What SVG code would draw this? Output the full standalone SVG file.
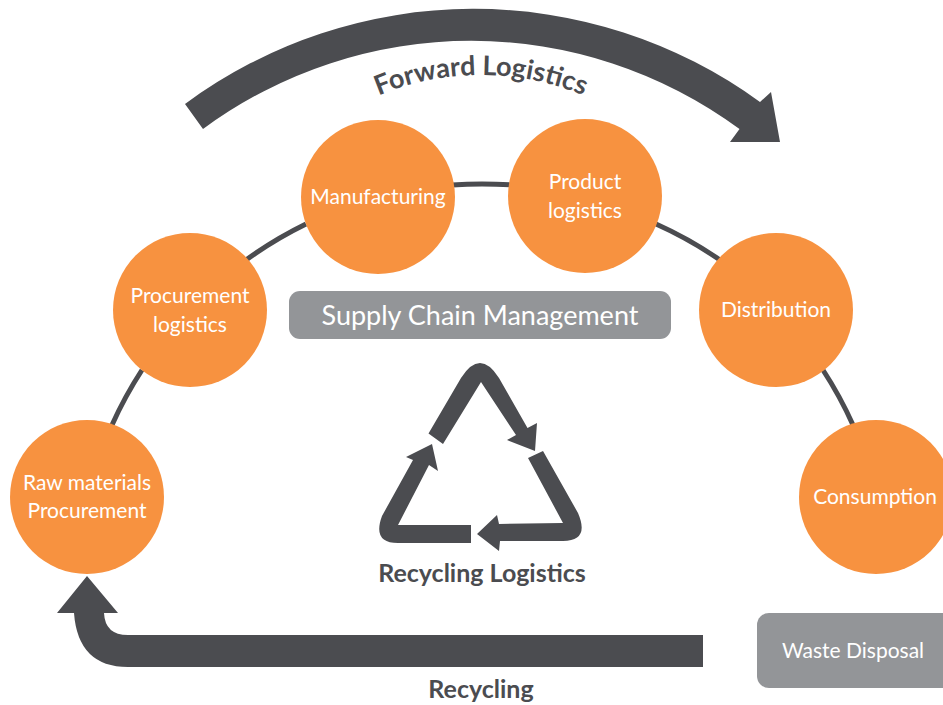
<svg xmlns="http://www.w3.org/2000/svg" width="943" height="705" viewBox="0 0 943 705">
<style>
.n{fill:#f79240}
.t{font-family:"Lato","Liberation Sans",sans-serif;font-size:21px;fill:#fff;text-anchor:middle}
.b{font-family:"Lato","Liberation Sans",sans-serif;font-weight:700;fill:#4b4c50;text-anchor:middle}
.d{fill:#4b4c50}
.c{fill:none;stroke:#4b4c50;stroke-width:5}
.g{fill:#939598}
</style>
<defs><path id="fl" d="M214,342 A267,267 0 0 1 748,342"/></defs>
<rect width="943" height="705" fill="#fff"/>
<g id="connectors">
<path class="c" d="M112,425 L112,425 A404,404 0 0 1 142,370"/>
<path class="c" d="M246,260 A404,404 0 0 1 306,224"/>
<path class="c" d="M452,185 A404,404 0 0 1 512,185"/>
<path class="c" d="M656,224 A404,404 0 0 1 720,260"/>
<path class="c" d="M823,370 A404,404 0 0 1 853,425"/>
</g>
<g id="forward-arrow">
<path class="d" d="M185,104 A486,486 0 0 1 760,102 L771,92 L780,142 L730,142 L739.500,129 A452,452 0 0 0 203,129 Z"/>
<text class="b" font-size="27"><textPath href="#fl" startOffset="50%">Forward Logistics</textPath></text>
</g>
<g id="raw-materials"><circle class="n" cx="87" cy="497" r="77"/><text class="t" x="87" y="490">Raw materials</text><text class="t" x="87" y="518">Procurement</text></g>
<g id="procurement-logistics"><circle class="n" cx="190" cy="310" r="77"/><text class="t" x="190" y="303">Procurement</text><text class="t" x="190" y="332">logistics</text></g>
<g id="manufacturing"><circle class="n" cx="378" cy="197" r="77"/><text class="t" x="378" y="204">Manufacturing</text></g>
<g id="product-logistics"><circle class="n" cx="585" cy="196" r="77"/><text class="t" x="585" y="189">Product</text><text class="t" x="585" y="218">logistics</text></g>
<g id="distribution"><circle class="n" cx="776" cy="310" r="77"/><text class="t" x="776" y="317">Distribution</text></g>
<g id="consumption"><circle class="n" cx="876" cy="497" r="77"/><text class="t" x="875" y="504">Consumption</text></g>
<g id="supply-chain"><rect class="g" x="289" y="291" width="382" height="48" rx="11"/><text class="t" x="480" y="325" style="font-size:27px">Supply Chain Management</text></g>
<g id="recycling-logistics">
<path class="d" d="M428.500,433.500 L461,378 Q480,348 499,378 L527.500,428 L537,423 L535,451 L507,440 L516,435 L481,382 L443,444 Z"/>
<path class="d" d="M528,458 L543,451 L578,513 Q590,541 563,541 L500,541 L499,551 L477,534 L497,515 L499,524 L563,523 Z"/>
<path class="d" d="M471,543 L471,525 L398,525 L429,465 L438,471 L432,444 L406,457 L413,460 L382,516 Q372,543 398,543 Z"/>
<text class="b" x="482" y="582" font-size="25">Recycling Logistics</text>
</g>
<g id="recycling-arrow">
<path class="d" d="M87,576 L118,613 L104,613 Q105,635 128,635 L703,635 L703,667 L128,667 Q78,667 74,613 L57,613 Z"/>
<text class="b" x="481" y="698" font-size="25">Recycling</text>
</g>
<g id="waste-disposal"><rect class="g" x="757" y="613" width="200" height="75" rx="12"/><text class="t" x="853" y="658">Waste Disposal</text></g>
</svg>
